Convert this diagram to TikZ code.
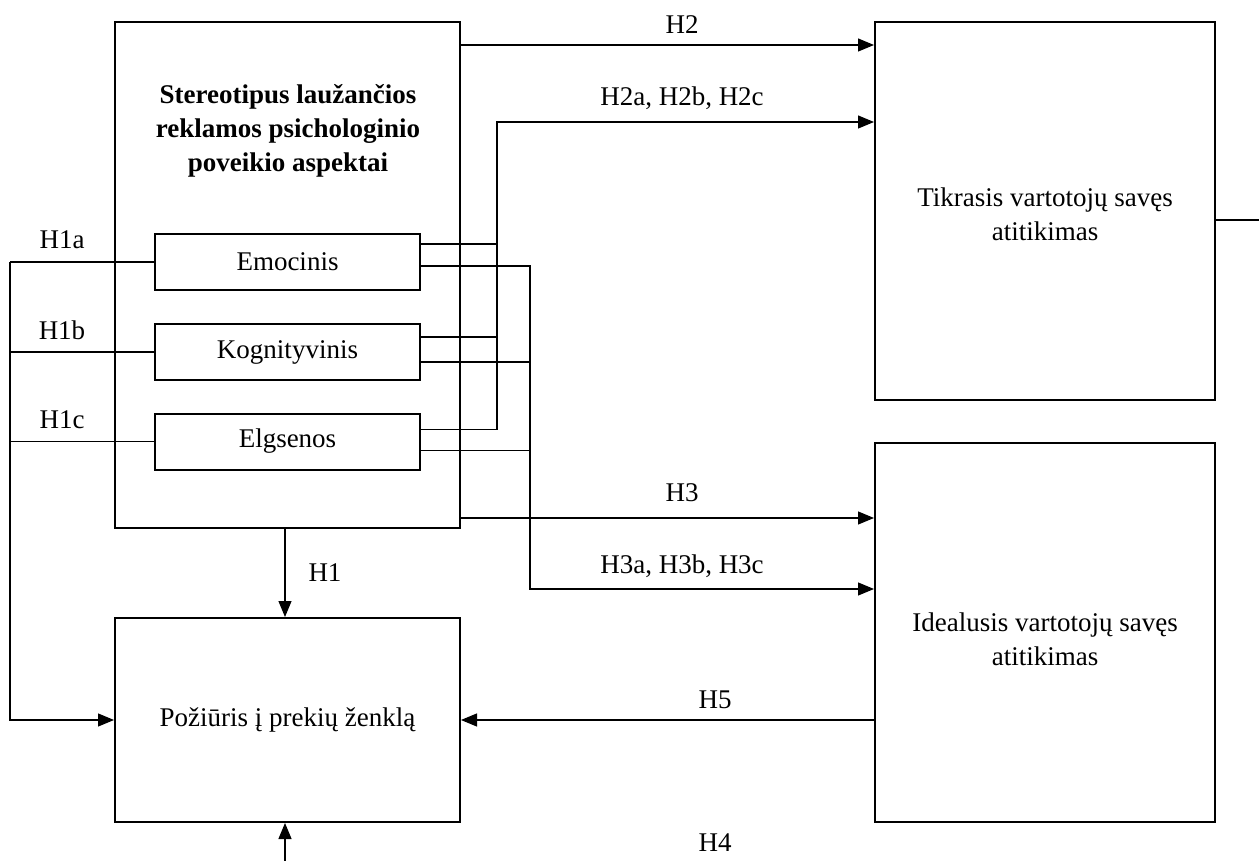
\documentclass[tikz,border=0pt]{standalone}
\usepackage{fontspec}
\setmainfont{Liberation Serif}
\usetikzlibrary{arrows.meta,positioning,calc}

\begin{document}
\begin{tikzpicture}[x=0.5pt, y=-0.5pt,
    font=\fontsize{13.5}{17}\selectfont,
    >={Triangle[length=8pt,width=6.5pt]},
    box/.style={draw, line width=1pt, rectangle, inner sep=0pt},
    conn/.style={line width=0.6pt}]
        \useasboundingbox (0,0) rectangle (1259,861);
        %nodes
        \node[box, minimum width=172.5pt, minimum height=253pt] (main) at (287.5, 275) {};
        \node[align=center, font=\fontsize{13.5}{17}\selectfont\bfseries] (ttl) at (288, 131) {Stereotipus laužančios\\reklamos psichologinio\\poveikio aspektai};
        \node[box, minimum width=132.5pt, minimum height=28pt] (emo) at (287.5, 262) {Emocinis};
        \node[box, minimum width=132.5pt, minimum height=28pt] (kog) at (287.5, 352) {Kognityvinis};
        \node[box, minimum width=132.5pt, minimum height=28pt] (elg) at (287.5, 441.5) {Elgsenos};
        \node[box, minimum width=172.5pt, minimum height=102pt] (poz) at (287.5, 720) {Požiūris į prekių ženklą};
        \node[box, minimum width=170pt, minimum height=189pt] (tik) at (1045, 211) {};
        \node[box, minimum width=170pt, minimum height=189.5pt] (ide) at (1045, 632.5) {};
        \node[align=center] (tikt) at (1045, 214) {Tikrasis vartotojų savęs\\atitikimas};
        \node[align=center] (idet) at (1045, 639) {Idealusis vartotojų savęs\\atitikimas};
        %junctions
        \coordinate (j2) at (497, 122);
        \coordinate (j3) at (530, 589);
        \coordinate (l0) at (10, 720);
        \coordinate (b4) at (285, 861);
        \coordinate (r4) at (1259, 220);
        \coordinate (e1) at ($(emo.east)+(0,-18)$);
        \coordinate (e2) at ($(emo.east)+(0,4)$);
        \coordinate (k1) at ($(kog.east)+(0,-15)$);
        \coordinate (k2) at ($(kog.east)+(0,10)$);
        \coordinate (g1) at ($(elg.east)+(0,-12)$);
        \coordinate (g2) at ($(elg.east)+(0,9)$);
        \coordinate (h2) at ($(main.north east)+(0,24)$);
        \coordinate (h3) at ($(main.south east)+(0,-11)$);
        %labels
        \node (lh1a) at (62, 240) {H1a};
        \node (lh1b) at (62, 330) {H1b};
        \node (lh1c) at (62, 420) {H1c};
        \node (lh1) at (325, 573) {H1};
        \node (lh2) at (682, 25) {H2};
        \node (lh2a) at (682, 98) {H2a, H2b, H2c};
        \node (lh3) at (682, 493) {H3};
        \node (lh3a) at (682, 566) {H3a, H3b, H3c};
        \node (lh5) at (715, 700) {H5};
        \node (lh4) at (715, 843) {H4};
        %edges
        \path [conn, draw, ->] (h2) -- (h2 -| tik.west);
        \path [conn, draw, ->] (g1) -| (j2) -- (j2 -| tik.west);
        \path [conn, draw] (e1) -- (e1 -| j2);
        \path [conn, draw] (k1) -- (k1 -| j2);
        \path [conn, draw, ->] (e2) -| (j3) -- (j3 -| ide.west);
        \path [conn, draw] (k2) -- (k2 -| j3);
        \path [conn, draw] (g2) -- (g2 -| j3);
        \path [conn, draw, ->] (h3) -- (h3 -| ide.west);
        \path [conn, draw, ->] (main.south -| b4) -- (poz.north -| b4);
        \path [conn, draw, ->] (emo.west -| l0) -- (l0) -- (poz.west);
        \path [conn, draw] (kog.west) -- (kog.west -| l0);
        \path [conn, draw] (elg.west) -- (elg.west -| l0);
        \path [conn, draw] (emo.west) -- (emo.west -| l0);
        \path [conn, draw, ->] (ide.west |- poz.east) -- (poz.east);
        \path [conn, draw, ->] (b4) -- (poz.south -| b4);
        \path [conn, draw] (tik.east |- r4) -- (r4);
\end{tikzpicture}
\end{document}
